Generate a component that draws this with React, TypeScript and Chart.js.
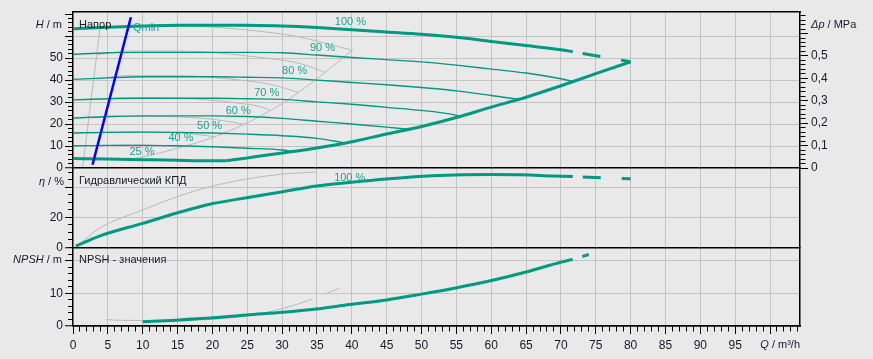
import { useEffect, useRef } from 'react';
import { Chart, registerables } from 'chart.js';

Chart.register(...registerables);

// ---------- data ----------
// Q in m³/h, H in m
const h100 = [[0, 63.3], [5, 64.0], [10, 64.6], [15, 65.0], [20, 65.0], [25, 64.9], [30, 64.6], [35, 63.9], [40, 62.9], [45, 61.9], [50, 60.9], [55, 59.5], [60, 57.6], [65, 55.7], [70, 53.8], [71.7, 52.9], [75, 51.1], [80, 48.3]];
const h90 = [[0, 51.7], [5, 52.4], [10, 52.6], [20, 52.6], [25, 52.6], [30, 52.4], [35, 51.4], [40, 50.3], [45, 49.3], [50, 48.3], [55, 46.8], [60, 45.0], [65, 43.2], [70, 40.6], [71.7, 39.4]];
const h80 = [[0, 40.3], [5, 41.0], [10, 41.5], [20, 41.5], [25, 41.3], [30, 41.0], [35, 40.0], [40, 38.9], [45, 37.9], [50, 36.6], [55, 35.1], [60, 33.0], [63.9, 31.3]];
const h70 = [[0, 31.0], [5, 31.5], [10, 31.7], [20, 31.7], [25, 31.5], [30, 31.2], [35, 30.1], [40, 29.0], [45, 27.6], [50, 26.2], [53, 25.1], [55.6, 23.7]];
const h60 = [[0, 22.7], [5, 23.4], [10, 23.7], [20, 23.7], [25, 23.4], [30, 22.6], [35, 21.3], [40, 20.0], [45, 18.6], [48, 17.6]];
const h50 = [[0, 15.9], [5, 16.2], [10, 16.3], [15, 16.2], [20, 15.9], [25, 15.4], [30, 14.7], [35, 13.5], [39, 11.4]];
const h40 = [[0, 10.1], [5, 10.3], [10, 10.3], [15, 10.1], [20, 9.7], [25, 9.0], [30, 8.2], [31.6, 7.5]];
const h25 = [[0, 4.3], [5, 4.1], [10, 3.8], [15, 3.5], [20, 3.3], [22, 3.3]];
const hLimit = [[22, 3.3], [25, 4.6], [30, 6.8], [35, 9.1], [40, 11.9], [45, 15.5], [50, 18.9], [55, 23.0], [60, 27.7], [65, 32.2], [70, 37.4], [75, 42.9], [80, 48.3]];
const qmin = [[2.8, 1.5], [8.3, 68.6]];

// grey comparison curves
const gLeft = [[1.4, 0.5], [3.9, 64.0]];
const gLimit = [[7.7, 3.6], [10, 5.0], [15, 9.0], [20, 13.8], [25, 20.6], [30, 29.3], [35, 40.6], [40.2, 54.0]];
const g100 = [[3.9, 64.0], [8, 64.5], [15, 64.6], [20, 64.1], [24, 63.1], [28.7, 61.5], [32.5, 59.6], [35.9, 57.0], [38.7, 54.7], [40.0, 53.6]];
const g90 = [[3.6, 51.6], [8, 53.2], [15, 53.2], [20, 52.6], [24, 51.3], [28.7, 49.6], [32.5, 47.6], [36.1, 43.6]];
const g80 = [[3.3, 40.6], [8, 42.0], [15, 42.0], [20, 41.2], [24, 40.0], [28.7, 37.8], [31.8, 34.9], [32.3, 34.4]];
const g70 = [[3.1, 31.2], [8, 32.0], [15, 31.8], [20, 30.8], [24, 29.4], [27, 27.8], [28.3, 26.3]];
const g60 = [[2.9, 22.8], [8, 23.5], [15, 23.3], [20, 22.2], [23, 20.8], [24.5, 19.9]];
const g50 = [[2.7, 16.0], [8, 16.5], [14, 16.2], [18, 15.2], [20.3, 14.2]];
const g40 = [[2.5, 10.0], [8, 10.5], [13, 10.2], [15.9, 9.9]];
const g25 = [[2.2, 4.2], [6, 4.3], [8.5, 4.1]];

// efficiency (%)
const eta = [[0.4, 0.8], [3.8, 7.5], [10, 16.0], [14.8, 22.7], [19.6, 28.7], [24.9, 33.1], [30.1, 37.1], [34.9, 40.9], [39.7, 43.3], [45, 45.6], [51.6, 47.7], [56, 48.4], [60, 48.6], [64.5, 48.4], [68.8, 47.6], [71.7, 47.2], [75, 46.6], [80, 45.7]];
const etaGrey = [[0.5, 0.4], [3.8, 12.7], [10, 24.9], [14.9, 33.7], [19.6, 40.4], [24.9, 45.5], [30.1, 48.9], [34.9, 50.2]];

// NPSH (m)
const npsh = [[10, 1.3], [14.8, 1.8], [20.1, 2.5], [24.9, 3.4], [30.1, 4.2], [34.9, 5.2], [39.7, 6.6], [45, 8.0], [50, 9.8], [54.9, 11.7], [59.9, 13.9], [65, 16.6], [70.1, 19.7], [71.7, 20.5], [74, 22.0]];
const npshGrey = [[4.8, 2.0], [6.7, 1.75], [10, 1.7], [15, 1.8], [20.1, 2.05], [25.8, 3.4], [30.1, 5.4], [34.4, 8.3], [36.1, 9.8], [38.3, 11.7], [40.2, 13.4]];

// labels
const speedLabels = ['25 %', '40 %', '50 %', '60 %', '70 %', '80 %', '90 %', '100 %'];
const speedLabelQ = [9.9, 15.5, 19.6, 23.7, 27.8, 31.8, 35.8, 39.8];
const speedLabelH = [7.2, 13.6, 19.3, 26.0, 34.0, 44.2, 54.4, 66.5];
const etaLabel = ['100 %', 39.7, 46.2];
const qminLabel = ['Qmin', 8.6, 63.6];

// axis ranges / ticks
const Q_MAX = 104.3;
const H_MAX = 71.2;
const ETA_MAX = 52.9;
const NPSH_MAX = 24.2;
const DP_MAX = H_MAX / 101.97;
const DASH_FROM_Q = 71.7;
const GREY_DASH_FROM_Q = 34.4;

// ---------- styles ----------
const TEAL = '#009a82';
const TEAL_TEXT = '#1ba293';
const GREY = '#b9b9b9';
const GRID = '#c4c4c4';
const INK = '#1a1a26';
const BG = '#e9e9e9';
const FONT = '"Liberation Sans", Arial, Helvetica, sans-serif';
const TEAL_DASH = [0, 10, 18, 11];
const GREY_DASH = [0, 12.5, 16, 12.5, 2, 300];
const NONE = 'rgba(0,0,0,0)';

const pts = (d: number[][]) => d.map(([x, y]) => ({ x, y }));

function line(d: number[][], yAxisID: string, color: string, width: number, dashFrom?: number, dash?: number[]) {
  const ds: any = {
    type: 'line',
    data: pts(d),
    xAxisID: 'x',
    yAxisID,
    borderColor: color,
    borderWidth: width,
    pointRadius: 0,
    pointHoverRadius: 0,
    cubicInterpolationMode: 'monotone',
    fill: false,
  };
  if (dashFrom !== undefined) {
    ds.segment = {
      borderDash: (c: any) => (d[c.p0DataIndex][0] >= dashFrom - 1e-9 ? dash : undefined),
    };
  }
  return ds;
}

function drawRich(ctx: CanvasRenderingContext2D, parts: [string, boolean][], x: number, y: number, align: string, size: number, color: string) {
  ctx.save();
  ctx.fillStyle = color;
  ctx.textBaseline = 'middle';
  ctx.textAlign = 'left';
  const widths = parts.map(([t, it]) => {
    ctx.font = `${it ? 'italic ' : ''}${size}px ${FONT}`;
    return ctx.measureText(t).width;
  });
  const total = widths.reduce((a, b) => a + b, 0);
  let cx = align === 'right' ? x - total : align === 'center' ? x - total / 2 : x;
  parts.forEach(([t, it], i) => {
    ctx.font = `${it ? 'italic ' : ''}${size}px ${FONT}`;
    ctx.fillText(t, cx, y);
    cx += widths[i];
  });
  ctx.restore();
}

const textPlugin = {
  id: 'pumpTexts',
  afterDraw(chart: any) {
    const { ctx, chartArea: a, scales: s } = chart;
    const tH = s.yH.top;
    const tE = s.yEta.top;
    const tN = s.yN.top;
    drawRich(ctx, [['H', true], [' / m', false]], a.left - 11, tH + 13.5, 'right', 11, INK);
    drawRich(ctx, [['η', true], [' / %', false]], a.left - 9, tE + 13.7, 'right', 11, INK);
    drawRich(ctx, [['NPSH', true], [' / m', false]], a.left - 11, tN + 12.7, 'right', 11, INK);
    drawRich(ctx, [['Δp', true], [' / MPa', false]], a.right + 11, tH + 13, 'left', 11, INK);
    drawRich(ctx, [['Q', true], [' / m³/h', false]], a.right, a.bottom + 19.3, 'right', 11, INK);
    drawRich(ctx, [['Напор', false]], a.left + 6, tH + 13, 'left', 11, INK);
    drawRich(ctx, [['Гидравлический КПД', false]], a.left + 6, tE + 13, 'left', 11, INK);
    drawRich(ctx, [['NPSH - значения', false]], a.left + 6, tN + 12.7, 'left', 11, INK);
    speedLabels.forEach((t, i) => {
      drawRich(ctx, [[t, false]], s.x.getPixelForValue(speedLabelQ[i]), s.yH.getPixelForValue(speedLabelH[i]), 'center', 11, TEAL_TEXT);
    });
    drawRich(ctx, [[etaLabel[0] as string, false]], s.x.getPixelForValue(etaLabel[1] as number), s.yEta.getPixelForValue(etaLabel[2] as number), 'center', 11, TEAL_TEXT);
    drawRich(ctx, [[qminLabel[0] as string, false]], s.x.getPixelForValue(qminLabel[1] as number), s.yH.getPixelForValue(qminLabel[2] as number), 'left', 11, TEAL_TEXT);
  },
};

const tv = (c: any) => (c && c.tick ? c.tick.value : NaN);

function leftAxis(max: number, step: number, weight: number, stackWeight: number, isLabel: (v: number) => boolean, isGrid: (v: number) => boolean, isMajor: (v: number) => boolean) {
  return {
    type: 'linear',
    position: 'left',
    stack: 'L',
    stackWeight,
    weight,
    min: 0,
    max,
    ticks: {
      stepSize: step,
      autoSkip: false,
      includeBounds: false,
      padding: 2,
      color: INK,
      font: { size: 12, family: FONT },
      callback: (v: number) => (isLabel(v) ? String(v) : ''),
    },
    grid: {
      color: (c: any) => { const v = tv(c); if (v === 0) return '#000'; return isGrid(v) ? GRID : NONE; },
      lineWidth: (c: any) => (tv(c) === 0 ? 1.5 : 1),
      tickColor: '#000',
      tickLength: 8,
      tickWidth: 1,
      tickBorderDash: (c: any) => (isMajor(tv(c)) ? [] : [0, 3, 5, 50]),
    },
    border: { color: '#000', width: 1.5 },
    afterFit: (sc: any) => { sc.width = 73; },
  };
}

function rightDummy(weight: number, stackWeight: number) {
  return {
    type: 'linear',
    position: 'right',
    stack: 'R',
    stackWeight,
    weight,
    min: 0,
    max: 1,
    ticks: { display: false },
    grid: { display: false, drawTicks: false },
    border: { display: true, color: '#000', width: 1.5 },
    afterFit: (sc: any) => { sc.width = 73; },
  };
}

export default function App() {
  const ref = useRef<HTMLCanvasElement>(null);

  useEffect(() => {
    if (!ref.current) return;
    const datasets = [
      line(qmin, 'yH', '#0000ff', 2.5),
      line(h100, 'yH', TEAL, 3, DASH_FROM_Q, TEAL_DASH),
      line(h90, 'yH', TEAL, 1.4),
      line(h80, 'yH', TEAL, 1.4),
      line(h70, 'yH', TEAL, 1.4),
      line(h60, 'yH', TEAL, 1.4),
      line(h50, 'yH', TEAL, 1.4),
      line(h40, 'yH', TEAL, 1.4),
      line(h25, 'yH', TEAL, 3),
      line(hLimit, 'yH', TEAL, 3),
      line(eta, 'yEta', TEAL, 3, DASH_FROM_Q, TEAL_DASH),
      line(npsh, 'yN', TEAL, 3, DASH_FROM_Q, TEAL_DASH),
      line(gLeft, 'yH', GREY, 1),
      line(gLimit, 'yH', GREY, 1),
      line(g100, 'yH', GREY, 1),
      line(g90, 'yH', GREY, 1),
      line(g80, 'yH', GREY, 1),
      line(g70, 'yH', GREY, 1),
      line(g60, 'yH', GREY, 1),
      line(g50, 'yH', GREY, 1),
      line(g40, 'yH', GREY, 1),
      line(g25, 'yH', GREY, 1),
      line(etaGrey, 'yEta', GREY, 1),
      line(npshGrey, 'yN', GREY, 1, GREY_DASH_FROM_Q, GREY_DASH),
    ];

    const chart = new Chart(ref.current, {
      type: 'line',
      data: { datasets },
      options: {
        animation: false,
        responsive: false,
        events: [],
        layout: { padding: 0 },
        plugins: { legend: { display: false }, tooltip: { enabled: false } },
        scales: {
          x: {
            type: 'linear',
            position: 'bottom',
            min: 0,
            max: Q_MAX,
            ticks: {
              stepSize: 1,
              autoSkip: false,
              includeBounds: false,
              maxRotation: 0,
              padding: 4,
              color: INK,
              font: { size: 12, family: FONT },
              callback: (v: number) => (v % 5 === 0 && v <= 95 ? String(v) : ''),
            },
            grid: {
              color: (c: any) => { const v = tv(c); return v > 0 && v % 5 === 0 ? GRID : NONE; },
              lineWidth: 1,
              tickColor: '#000',
              tickLength: 8,
              tickBorderDash: (c: any) => (tv(c) % 5 === 0 ? [] : [5, 50]),
            },
            border: { color: '#000', width: 1.5 },
            afterFit: (sc: any) => { sc.height = 33; },
          },
          xTop: {
            type: 'linear',
            position: 'top',
            min: 0,
            max: Q_MAX,
            ticks: { display: false },
            grid: { display: false, drawTicks: false },
            border: { display: true, color: '#000', width: 1.5 },
            afterFit: (sc: any) => { sc.height = 11.5; },
          },
          yH: leftAxis(H_MAX, 2, 3, 156.5, (v) => v % 10 === 0 && v <= 50, (v) => v % 10 === 0 && v <= 60, (v) => v % 10 === 0),
          yEta: leftAxis(ETA_MAX, 5, 2, 79.3, (v) => v === 0 || v === 20, (v) => v === 20 || v === 40, (v) => v % 20 === 0),
          yN: leftAxis(NPSH_MAX, 2, 1, 78.7, (v) => v === 0 || v === 10, (v) => v === 10 || v === 20, (v) => v % 10 === 0),
          yDp: {
            type: 'linear',
            position: 'right',
            stack: 'R',
            stackWeight: 156.5,
            weight: 1,
            min: 0,
            max: DP_MAX,
            ticks: {
              stepSize: 0.02,
              autoSkip: false,
              includeBounds: false,
              padding: 3,
              color: INK,
              font: { size: 12, family: FONT },
              callback: (v: number) => {
                const i = Math.round(v * 50);
                if (i % 5 !== 0 || i > 25) return '';
                return i === 0 ? '0' : (i / 50).toFixed(1).replace('.', ',');
              },
            },
            grid: {
              drawOnChartArea: false,
              color: '#000',
              tickColor: '#000',
              tickLength: 8,
              tickBorderDash: (c: any) => (Math.round(tv(c) * 50) % 5 === 0 ? [] : [5, 50]),
            },
            border: { color: '#000', width: 1.5 },
            afterFit: (sc: any) => { sc.width = 73; },
          },
          yR2: rightDummy(2, 79.3),
          yR3: rightDummy(3, 78.7),
        } as any,
      },
      plugins: [textPlugin],
    } as any);

    return () => chart.destroy();
  }, []);

  return (
    <div style={{ position: 'fixed', left: 0, top: 0, width: 873, height: 359, background: BG }}>
      <canvas ref={ref} width={873} height={359} style={{ display: 'block', width: 873, height: 359 }} />
    </div>
  );
}
